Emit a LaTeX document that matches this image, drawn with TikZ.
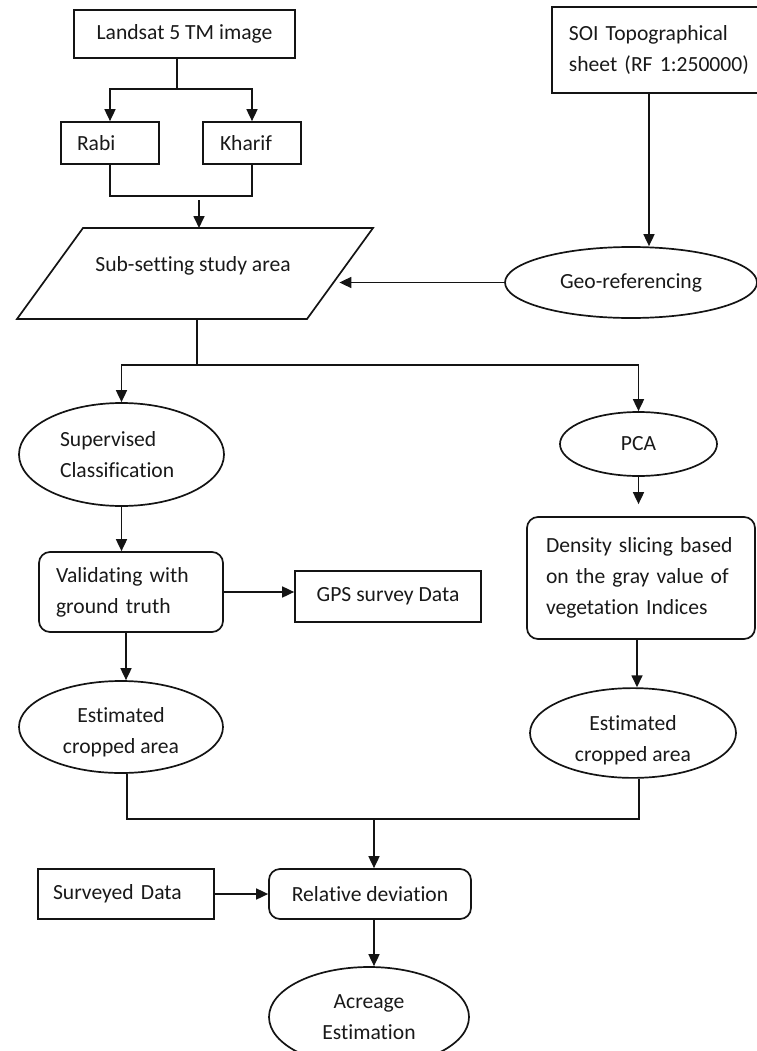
\documentclass[tikz,border=0pt]{standalone}
\usepackage{fontspec}
\setmainfont{Carlito}[Ligatures={NoCommon,NoContextual}]
\usetikzlibrary{arrows.meta,shapes.geometric,calc}
\definecolor{ln}{RGB}{20,20,20}
\definecolor{txt}{RGB}{25,25,25}
\begin{document}
\begin{tikzpicture}[x=1pt,y=-1pt,
  every node/.style={font=\fontsize{21.6}{31}\selectfont, text=txt},
  box/.style={draw=ln, line width=1.7pt, rectangle, inner sep=0pt, align=center},
  rbox/.style={box, rounded corners=11pt},
  oval/.style={draw=ln, line width=1.7pt, ellipse, inner sep=0pt, align=center},
  conn/.style={draw=ln, line width=1.7pt},
  arr/.style={conn, -{Triangle[length=12pt,width=11pt]}}]
\useasboundingbox (0,0) rectangle (756,1051);
% nodes
\node[box, minimum width=221pt, minimum height=48pt] (landsat) at (184.5,34) {Landsat 5 TM image};
\node[box, anchor=west, text width=192pt, inner xsep=17pt, minimum height=86pt, align=left] (soi) at (551,50) {SOI Topographical\\sheet (RF 1:250000)};
\node[box, minimum width=98pt, minimum height=42pt, text width=66pt, align=left] (rabi) at (110,143) {Rabi};
\node[box, minimum width=98pt, minimum height=42pt, text width=64pt, align=left] (kharif) at (252,143) {Kharif};
\coordinate (subTL) at (83,228);
\coordinate (subTR) at (373,228);
\coordinate (subBR) at (307,319);
\coordinate (subBL) at (17,319);
\draw[draw=ln, line width=1.7pt] (subTL) -- (subTR) -- (subBR) -- (subBL) -- cycle;
\node (sub) at (193,266) {Sub-setting study area};
\node[oval, minimum width=252pt, minimum height=71pt] (geo) at (631,282.5) {Geo-referencing};
\node[oval, minimum width=205pt, minimum height=103pt, text width=123pt, align=left] (sup) at (121.5,454.5) {Supervised\\Classification};
\node[oval, minimum width=157pt, minimum height=64pt] (pca) at (638.5,444) {PCA};
\node[rbox, minimum width=228pt, minimum height=122pt, text width=190pt, align=left] (dens) at (641,578) {Density slicing based\\on the gray value of\\vegetation Indices};
\node[rbox, minimum width=184pt, minimum height=80pt, text width=150pt, align=left] (val) at (131,592) {Validating with\\ground truth};
\node[box, minimum width=186pt, minimum height=51pt] (gps) at (388,596.5) {GPS survey Data};
\node[oval, minimum width=204pt, minimum height=92pt] (est1) at (121,727) {\rule{0pt}{25pt}Estimated\\cropped area};
\node[oval, minimum width=206pt, minimum height=89pt] (est2) at (633,733) {\rule{0pt}{29pt}Estimated\\cropped area};
\node[box, minimum width=176pt, minimum height=50pt, text width=146pt, align=left] (surv) at (126,894) {Surveyed Data};
\node[rbox, minimum width=202pt, minimum height=50pt] (rel) at (370,894) {Relative deviation};
\node[oval, minimum width=200pt, minimum height=100pt] (acre) at (369,1017) {Acreage\\Estimation};
% connectors
\coordinate (lsplit) at (177,89);
\draw[conn] (landsat.south -| lsplit) -- (lsplit);
\draw[arr] (lsplit) -| (rabi.north);
\draw[arr] (lsplit) -| (kharif.north);
\draw[conn] (rabi.south) -- ++(0,31) -| (kharif.south);
\coordinate (subin) at (199,200);
\draw[arr] (subin) -- (subin |- subTL);
\coordinate (soix) at (649,0);
\draw[arr] (soi.south -| soix) -- (geo.north -| soix);
\coordinate (subR) at ($(subTR)!0.6!(subBR)$);
\draw[arr, shorten >=6pt] (geo.west) -- (geo.west -| subR);
\coordinate (subB) at ($(subBL)!0.621!(subBR)$);
\coordinate (split2) at (197,365);
\draw[conn] (subB) -- (split2);
\draw[arr] (split2) -| (sup.north);
\draw[arr] (split2) -| (pca.north);
\draw[arr, shorten >=12pt] (pca.south) -- (dens.north -| pca.south);
\draw[arr] (sup.south) -- (sup.south |- val.north);
\draw[arr] (val.east) -- (val.east -| gps.west);
\draw[arr] ([xshift=-5pt]val.south) -- ([xshift=-5pt]val.south |- est1.north);
\draw[arr] ([xshift=-4pt]dens.south) -- ([xshift=-4pt]dens.south |- est2.north);
\coordinate (merge) at (374,819);
\draw[conn] ([xshift=6pt]est1.south) |- (merge) -| ([xshift=6pt]est2.south);
\draw[arr] (merge) -- (merge |- rel.north);
\draw[arr] (surv.east) -- (rel.west);
\draw[arr] (rel.south -| merge) -- (acre.north -| merge);
\end{tikzpicture}
\end{document}
